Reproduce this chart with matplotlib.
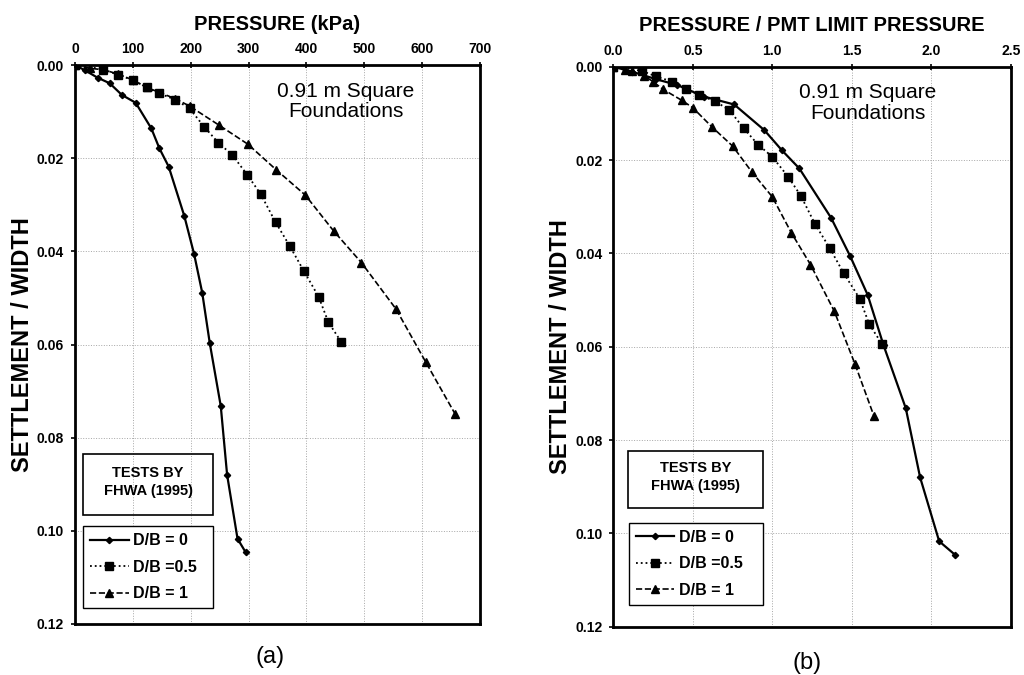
import numpy as np
import matplotlib.pyplot as plt
from matplotlib.patches import Rectangle

plt.rcParams['font.family'] = ['Liberation Sans', 'DejaVu Sans']

# settlement / width, shared by both panels
settle_0 = [0, 0.0011, 0.0027, 0.0039, 0.0064, 0.0081, 0.0136, 0.0179, 0.0218,
            0.0324, 0.0406, 0.0489, 0.0597, 0.0732, 0.0880, 0.1017, 0.1046]
settle_05 = [0, 0.0009, 0.0021, 0.0032, 0.0048, 0.0061, 0.0074, 0.0093, 0.0132,
             0.0167, 0.0193, 0.0236, 0.0277, 0.0338, 0.0388, 0.0443, 0.0497,
             0.0552, 0.0594]
settle_1 = [0, 0.0007, 0.0010, 0.0019, 0.0032, 0.0048, 0.0072, 0.0088, 0.0129,
            0.0170, 0.0225, 0.0279, 0.0356, 0.0424, 0.0524, 0.0637, 0.0749]

# (a) pressure in kPa
press_0 = [0, 17, 39, 60, 81, 105, 132, 146, 162, 189, 206, 220, 233, 252, 263, 281, 295]
press_05 = [0, 49, 74, 100, 124, 146, 173, 198, 223, 248, 272, 298, 321, 347,
            371, 396, 421, 438, 460]
press_1 = [0, 26, 49, 74, 100, 124, 173, 198, 249, 299, 348, 398, 447, 495, 555, 606, 657]

# (b) pressure / PMT limit pressure
ratio_0 = [0, 0.12, 0.27, 0.40, 0.57, 0.76, 0.95, 1.06, 1.17, 1.37, 1.49, 1.60,
           1.70, 1.84, 1.93, 2.05, 2.15]
ratio_05 = [0, 0.18, 0.27, 0.37, 0.46, 0.54, 0.64, 0.73, 0.82, 0.91, 1.00, 1.10,
            1.18, 1.27, 1.36, 1.45, 1.55, 1.61, 1.69]
ratio_1 = [0, 0.07, 0.12, 0.19, 0.25, 0.31, 0.43, 0.50, 0.62, 0.75, 0.87, 1.00,
           1.12, 1.24, 1.39, 1.52, 1.64]

labels = ["D/B = 0", "D/B =0.5", "D/B = 1"]
y_ticks = [0.00, 0.02, 0.04, 0.06, 0.08, 0.10, 0.12]

fig = plt.figure(figsize=(10.24, 6.75), dpi=100)
ax_a = fig.add_axes([0.0732, 0.0756, 0.3955, 0.828])
ax_b = fig.add_axes([0.599, 0.0716, 0.388, 0.8296])


def draw_panel(ax, xs, xlabel, xticks, xfmt, xmax, tag, tag_xy, txt_x, box, leg):
    x0, x1, x2 = xs
    ax.plot(x0, settle_0, '-', color='black', lw=1.6, marker='D', ms=3.2, label=labels[0])
    ax.plot(x1, settle_05, ':', color='black', lw=1.3, marker='s', ms=5.5, label=labels[1])
    ax.plot(x2, settle_1, '--', color='black', lw=1.2, marker='^', ms=6, label=labels[2])
    ax.set_xlim(0, xmax)
    ax.set_ylim(0.12, 0.0)
    ax.xaxis.tick_top()
    ax.xaxis.set_label_position('top')
    ax.set_xticks(xticks)
    ax.set_xticklabels([xfmt % t for t in xticks], fontweight='bold', fontsize=10)
    ax.set_yticks(y_ticks)
    ax.set_yticklabels(["%.2f" % t for t in y_ticks], fontweight='bold', fontsize=10)
    ax.tick_params(axis='x', direction='inout', length=5, width=1.2, pad=4)
    ax.tick_params(axis='y', direction='out', length=3, width=1.2, pad=5)
    ax.set_xlabel(xlabel, fontweight='bold', fontsize=14.5, labelpad=9)
    ax.set_ylabel("SETTLEMENT / WIDTH", fontweight='bold', fontsize=17, labelpad=2)
    for sp in ax.spines.values():
        sp.set_linewidth(2)
    ax.grid(True, linestyle=':', color='0.65', lw=0.7)
    ax.text(txt_x, 0.0078, "0.91 m Square\nFoundations", ha='center', va='center',
            fontsize=15, linespacing=1.1)

    # "TESTS BY" box
    bx0, by0, bw, bh = box
    fig.patches.append(Rectangle((bx0, by0), bw, bh, transform=fig.transFigure,
                                 fill=False, edgecolor='black', lw=1.2))
    fig.text(bx0 + bw / 2, by0 + bh / 2 + 0.004, "TESTS BY\nFHWA (1995)", ha='center',
             va='center', fontsize=10.5, fontweight='bold', linespacing=1.4)

    lg = ax.legend(loc='upper left', bbox_to_anchor=leg, bbox_transform=fig.transFigure,
                   mode='expand', borderaxespad=0, fancybox=False, edgecolor='black',
                   framealpha=1, handlelength=2.4, handletextpad=0.3, labelspacing=0.72,
                   borderpad=0.45, prop={'weight': 'bold', 'size': 11.5})
    lg.get_frame().set_linewidth(1.0)
    fig.text(tag_xy[0], tag_xy[1], tag, ha='center', va='center', fontsize=17)


draw_panel(ax_a, (press_0, press_05, press_1), "PRESSURE (kPa)",
           [0, 100, 200, 300, 400, 500, 600, 700], "%d", 700, "(a)",
           (270 / 1024, 0.027), 468,
           (0.0811, 0.237, 0.127, 0.0904), (0.0811, 0.0, 0.127, 0.2207))
draw_panel(ax_b, (ratio_0, ratio_05, ratio_1), "PRESSURE / PMT LIMIT PRESSURE",
           [0.0, 0.5, 1.0, 1.5, 2.0, 2.5], "%.1f", 2.5, "(b)",
           (807 / 1024, 0.018), 1.6,
           (0.613, 0.2474, 0.132, 0.0845), (0.614, 0.0, 0.131, 0.2256))

fig.savefig("out.png", dpi=100)
